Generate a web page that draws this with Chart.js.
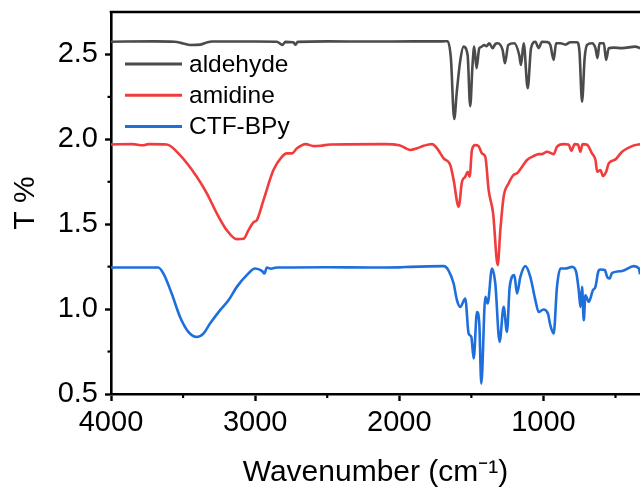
<!DOCTYPE html>
<html>
<head>
<meta charset="utf-8">
<script src="https://cdn.jsdelivr.net/npm/chart.js@4/dist/chart.umd.min.js"></script>
<style>
  html, body { margin: 0; padding: 0; background: #ffffff; }
  #wrap { width: 640px; height: 491px; position: relative; }
</style>
</head>
<body>
<div id="wrap"><canvas id="c" width="640" height="491"></canvas></div>
<script>
// ---------------- DATA ----------------
const seriesLabels = ['aldehyde', 'amidine', 'CTF-BPy'];
const seriesColors = ['#4b4b4b', '#f03c3c', '#1e6edc'];

const aldehydeWn = [4000,3700,3560,3500,3450,3380,3330,3300,3000,2850,2810,2790,2735,2720,2705,2500,2200,1900,1700,1665,1642,1619,1601,1578,1554,1526,1508,1492,1480,1464,1445,1430,1411,1395,1376,1352,1335,1318,1283,1267,1244,1202,1168,1156,1137,1109,1086,1056,1033,1010,975,952,929,912,882,847,813,767,750,732,714,697,663,639,625,611,581,565,547,512,454,362,330];
const aldehydeT  = [2.575,2.577,2.575,2.565,2.556,2.558,2.572,2.576,2.576,2.575,2.556,2.574,2.572,2.557,2.574,2.577,2.576,2.577,2.577,2.578,2.478,2.120,2.280,2.458,2.546,2.497,2.195,2.438,2.546,2.419,2.537,2.545,2.556,2.548,2.566,2.537,2.560,2.566,2.526,2.448,2.556,2.566,2.497,2.438,2.566,2.301,2.537,2.575,2.537,2.575,2.573,2.556,2.468,2.566,2.566,2.558,2.572,2.572,2.517,2.222,2.478,2.556,2.566,2.537,2.478,2.566,2.566,2.468,2.537,2.540,2.537,2.546,2.537];

const amidineWn = [4000,3850,3780,3740,3613,3521,3405,3335,3266,3197,3127,3081,3046,3012,2988,2942,2873,2815,2780,2745,2710,2650,2592,2547,2478,2100,2000,1950,1924,1877,1831,1773,1738,1692,1646,1623,1588,1565,1542,1526,1512,1496,1473,1450,1426,1403,1380,1349,1317,1299,1276,1241,1207,1183,1148,1114,1067,1033,1010,975,929,906,860,825,806,783,760,744,728,697,663,639,627,605,586,565,547,500,454,396,362,330];
const amidineT  = [1.970,1.972,1.965,1.972,1.970,1.907,1.780,1.682,1.564,1.465,1.412,1.414,1.465,1.511,1.524,1.642,1.819,1.897,1.917,1.917,1.947,1.972,1.960,1.962,1.970,1.972,1.965,1.945,1.937,1.947,1.962,1.972,1.947,1.888,1.848,1.760,1.603,1.750,1.780,1.809,1.780,1.937,1.966,1.960,1.917,1.897,1.701,1.564,1.259,1.465,1.662,1.741,1.790,1.800,1.839,1.878,1.902,1.913,1.913,1.927,1.913,1.956,1.972,1.970,1.933,1.972,1.970,1.927,1.972,1.968,1.917,1.878,1.809,1.819,1.784,1.809,1.858,1.882,1.927,1.956,1.966,1.972];

const ctfWn = [4000,3672,3637,3579,3521,3463,3405,3359,3313,3243,3185,3127,3058,3000,2953,2935,2919,2890,2849,2500,2200,2000,1924,1692,1658,1623,1600,1577,1542,1519,1500,1484,1461,1445,1431,1403,1387,1357,1334,1304,1276,1253,1234,1202,1183,1160,1125,1091,1056,1033,1000,969,952,929,906,882,848,801,773,755,743,732,720,709,685,657,639,620,605,574,558,542,523,454,373,338,330];
const ctfT  = [1.245,1.245,1.210,1.092,0.954,0.866,0.836,0.856,0.915,0.994,1.052,1.131,1.200,1.239,1.225,1.210,1.245,1.238,1.245,1.247,1.245,1.246,1.249,1.253,1.227,1.151,1.053,1.013,1.062,0.856,0.836,0.709,0.983,0.915,0.561,1.072,1.033,1.239,1.151,0.807,1.013,0.866,1.131,1.200,1.092,1.190,1.253,1.190,1.053,0.983,0.998,0.974,0.905,0.856,1.131,1.239,1.239,1.249,1.219,1.111,1.013,1.131,0.934,1.082,1.043,1.111,1.131,1.219,1.233,1.230,1.190,1.180,1.213,1.225,1.253,1.240,1.206];

const xMajorTicks = [4000, 3000, 2000, 1000];
const xMinorTicks = [3500, 2500, 1500, 500];
const yMajorTicks = [0.5, 1.0, 1.5, 2.0, 2.5];
const yMinorTicks = [0.75, 1.25, 1.75, 2.25];
const xRange = [330, 4000];
const yRange = [0.5, 2.75];
const xTitle = 'Wavenumber (cm\u207B\u00B9)';
const yTitle = 'T %';
// --------------------------------------

const FONT = '"Liberation Sans", Arial, Helvetica, sans-serif';

function pairs(wn, t) { return wn.map((w, i) => ({ x: w, y: t[i] })); }
const allWn = [aldehydeWn, amidineWn, ctfWn];
const allT = [aldehydeT, amidineT, ctfT];

const datasets = seriesLabels.map((lab, i) => ({
  label: lab,
  data: pairs(allWn[i], allT[i]),
  borderColor: seriesColors[i],
  backgroundColor: seriesColors[i],
  borderWidth: 2.6,
  pointRadius: 0,
  fill: false,
  cubicInterpolationMode: 'monotone'
}));

const framePlugin = {
  id: 'frame',
  afterDraw(chart) {
    const ctx = chart.ctx;
    const a = chart.chartArea;
    const xs = chart.scales.x, ys = chart.scales.y;
    ctx.save();
    ctx.strokeStyle = '#000';
    ctx.lineWidth = 2.6;
    // top border
    ctx.beginPath();
    ctx.moveTo(a.left - 1.3, a.top);
    ctx.lineTo(a.right, a.top);
    ctx.stroke();
    // minor ticks
    ctx.lineWidth = 2.2;
    xMinorTicks.forEach(v => {
      const px = xs.getPixelForValue(v);
      ctx.beginPath(); ctx.moveTo(px, a.bottom); ctx.lineTo(px, a.bottom + 4); ctx.stroke();
    });
    yMinorTicks.forEach(v => {
      const py = ys.getPixelForValue(v);
      ctx.beginPath(); ctx.moveTo(a.left, py); ctx.lineTo(a.left - 3.5, py); ctx.stroke();
    });
    // legend
    const lx0 = a.left + 14, lx1 = a.left + 71, tx = a.left + 78;
    const ly0 = 64, dy = 31.3;
    ctx.font = '24.5px ' + FONT;
    ctx.textBaseline = 'middle';
    ctx.textAlign = 'left';
    chart.data.datasets.forEach((ds, i) => {
      const y = ly0 + i * dy;
      ctx.strokeStyle = ds.borderColor;
      ctx.lineWidth = 3;
      ctx.beginPath(); ctx.moveTo(lx0, y); ctx.lineTo(lx1, y); ctx.stroke();
      ctx.fillStyle = '#000';
      ctx.fillText(ds.label, tx, y + 1);
    });
    ctx.restore();
  }
};

new Chart(document.getElementById('c'), {
  type: 'line',
  data: { datasets },
  options: {
    responsive: false,
    animation: false,
    devicePixelRatio: 1,
    layout: { padding: { top: 12, right: 0, left: 0, bottom: 0 } },
    plugins: { legend: { display: false }, tooltip: { enabled: false } },
    scales: {
      x: {
        type: 'linear',
        reverse: true,
        min: xRange[0],
        max: xRange[1],
        afterBuildTicks: s => { s.ticks = xMajorTicks.map(v => ({ value: v })); },
        afterFit: s => { s.height = 97; s.paddingLeft = 0; s.paddingRight = 0; },
        ticks: {
          autoSkip: false,
          maxRotation: 0,
          padding: 5,
          color: '#000',
          font: { family: FONT, size: 29 },
          callback: v => String(v)
        },
        grid: { drawOnChartArea: false, drawTicks: true, tickLength: 7, tickWidth: 2.4, tickColor: '#000' },
        border: { display: true, color: '#000', width: 2.6 },
        title: { display: true, text: xTitle, color: '#000', font: { family: FONT, size: 30 }, padding: { top: 0, bottom: 0 } }
      },
      y: {
        type: 'linear',
        min: yRange[0],
        max: yRange[1],
        afterBuildTicks: s => { s.ticks = yMajorTicks.map(v => ({ value: v })); },
        afterFit: s => { s.width = 111; s.paddingTop = 0; s.paddingBottom = 0; },
        ticks: {
          autoSkip: false,
          padding: 7,
          color: '#000',
          font: { family: FONT, size: 29 },
          callback: v => Number(v).toFixed(1)
        },
        grid: { drawOnChartArea: false, drawTicks: true, tickLength: 6, tickWidth: 2.4, tickColor: '#000' },
        border: { display: true, color: '#000', width: 2.6 },
        title: { display: true, text: yTitle, color: '#000', font: { family: FONT, size: 30 }, padding: { top: 8, bottom: 0 } }
      }
    }
  },
  plugins: [framePlugin]
});
</script>
</body>
</html>
